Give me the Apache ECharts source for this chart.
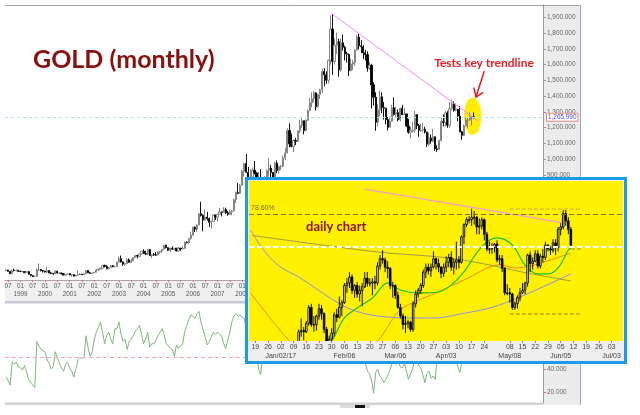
<!DOCTYPE html>
<html><head><meta charset="utf-8">
<script src="https://cdn.jsdelivr.net/npm/echarts@6/dist/echarts.min.js"></script>
<style>html,body{margin:0;padding:0;background:#fff}#c{width:640px;height:415px}</style>
</head><body><div id="c"></div>
<script>
// ---------- monthly chart data (1998-06 .. 2017-06), rows = [open, close, low, high] ----------
const monthlyOHLC = [
// 1998 Jun-Dec
[293,296,288,301],[296,288,287,298],[288,273,271,290],[273,294,273,300],[294,292,288,305],[292,294,288,300],[294,288,284,297],
// 1999
[288,287,283,293],[287,287,283,291],[287,279,278,290],[279,286,278,291],[286,268,267,290],[268,261,256,268],[261,255,252,262],[255,255,251,259],[255,299,254,307],[299,299,290,338],[299,292,288,303],[292,290,280,296],
// 2000
[290,283,281,292],[283,293,280,316],[293,278,276,295],[278,274,271,285],[274,272,266,279],[272,289,271,294],[289,277,275,291],[277,277,271,280],[277,273,268,279],[273,264,263,275],[264,269,263,272],[269,273,267,275],
// 2001
[273,265,263,275],[265,267,255,269],[267,258,255,269],[258,264,255,266],[264,267,263,293],[267,270,265,276],[270,266,264,270],[266,273,265,277],[273,293,270,294],[293,279,277,294],[279,275,272,286],[275,277,270,280],
// 2002
[277,282,276,286],[282,297,281,303],[297,302,289,304],[302,308,299,311],[308,326,306,328],[326,318,314,330],[318,304,302,327],[304,312,300,316],[312,324,309,328],[324,317,314,327],[317,318,315,324],[318,347,316,349],
// 2003
[347,368,344,383],[368,347,344,388],[347,334,323,352],[334,336,322,340],[336,361,336,372],[361,346,342,371],[346,354,341,368],[354,375,353,377],[375,388,372,392],[388,384,370,393],[384,398,378,399],[398,416,396,417],
// 2004
[416,400,399,428],[400,397,391,419],[397,427,391,430],[427,388,386,430],[388,394,372,396],[394,392,387,404],[392,391,386,410],[391,409,390,416],[409,416,397,418],[416,428,407,430],[428,453,427,455],[453,438,434,458],
// 2005
[438,422,418,440],[422,435,411,437],[435,428,424,446],[428,435,424,436],[435,418,414,432],[418,435,413,442],[435,430,418,433],[430,433,430,447],[433,473,433,477],[473,470,466,479],[470,495,460,498],[495,517,490,540],
// 2006
[517,568,517,571],[568,556,538,573],[556,582,539,585],[582,654,580,655],[654,643,636,730],[643,613,542,650],[613,632,610,680],[632,623,610,665],[623,599,570,630],[599,604,560,610],[604,646,601,650],[646,632,614,646],
// 2007
[632,650,603,653],[650,665,647,690],[665,663,637,668],[663,680,660,695],[680,659,653,692],[659,650,640,672],[650,666,648,680],[666,672,643,678],[672,743,669,750],[743,789,721,795],[789,783,778,848],[783,834,782,842],
// 2008
[834,923,833,933],[923,972,889,976],[972,916,914,1033],[916,863,853,951],[863,886,852,937],[886,930,858,947],[930,912,903,988],[912,833,775,918],[833,880,736,918],[880,718,681,936],[718,815,705,837],[815,882,760,891],
// 2009
[882,928,802,934],[928,943,890,1006],[943,916,865,964],[916,883,866,917],[883,975,882,983],[975,927,912,991],[927,953,906,960],[953,955,930,964],[955,1007,948,1023],[1007,1040,994,1072],[1040,1182,1036,1195],[1182,1096,1075,1227],
// 2010
[1096,1081,1075,1162],[1081,1118,1045,1127],[1118,1113,1089,1135],[1113,1179,1111,1181],[1179,1213,1165,1249],[1213,1244,1198,1265],[1244,1181,1157,1244],[1181,1247,1176,1251],[1247,1307,1242,1316],[1307,1357,1306,1388],[1357,1384,1331,1424],[1384,1420,1360,1431],
// 2011
[1420,1333,1309,1424],[1333,1410,1326,1415],[1410,1439,1381,1447],[1439,1556,1419,1575],[1556,1536,1462,1577],[1536,1500,1478,1557],[1500,1628,1480,1632],[1628,1825,1600,1911],[1825,1620,1535,1920],[1620,1723,1600,1763],[1723,1746,1667,1803],[1746,1566,1523,1764],
// 2012
[1566,1738,1555,1764],[1738,1710,1688,1791],[1710,1669,1627,1720],[1669,1664,1613,1681],[1664,1562,1527,1670],[1562,1604,1556,1640],[1604,1614,1565,1630],[1614,1692,1592,1697],[1692,1774,1690,1790],[1774,1719,1695,1796],[1719,1713,1672,1755],[1713,1675,1635,1723],
// 2013
[1675,1663,1626,1694],[1663,1578,1555,1684],[1578,1595,1565,1617],[1595,1472,1321,1605],[1472,1393,1339,1488],[1393,1234,1180,1424],[1234,1313,1207,1348],[1313,1396,1272,1434],[1396,1327,1292,1424],[1327,1323,1251,1362],[1323,1250,1221,1324],[1250,1202,1182,1267],
// 2014
[1202,1240,1202,1270],[1240,1326,1237,1345],[1326,1284,1277,1392],[1284,1296,1268,1331],[1296,1250,1240,1315],[1250,1322,1240,1326],[1322,1282,1280,1345],[1282,1287,1281,1323],[1287,1210,1204,1289],[1210,1171,1161,1255],[1171,1182,1131,1205],[1182,1184,1170,1238],
// 2015
[1184,1283,1167,1307],[1283,1213,1191,1285],[1213,1183,1142,1223],[1183,1183,1173,1224],[1183,1190,1170,1232],[1190,1172,1162,1205],[1172,1095,1077,1174],[1095,1134,1084,1170],[1134,1115,1098,1157],[1115,1142,1107,1192],[1142,1065,1053,1142],[1065,1061,1046,1088],
// 2016
[1061,1118,1061,1123],[1118,1238,1111,1263],[1238,1233,1208,1283],[1233,1293,1208,1304],[1293,1215,1199,1304],[1215,1321,1200,1362],[1321,1351,1310,1377],[1351,1309,1301,1367],[1309,1316,1303,1352],[1316,1273,1241,1318],[1273,1173,1171,1337],[1173,1151,1123,1180],
// 2017 Jan-Jun
[1151,1211,1146,1219],[1211,1249,1208,1264],[1249,1249,1195,1262],[1249,1268,1245,1297],[1268,1268,1214,1271],[1268,1266,1258,1296]
];

// monthly RSI, same months as monthlyOHLC
const rsiValues = [
33,30,26,46,44,46,42,
41,39,43,38,31,28,26,24,64,60,57,56,
55,48,45,40,42,55,50,45,41,38,44,46,
41,38,33,40,48,50,49,51,69,58,51,55,
66,72,76,81,72,62,69,72,66,62,75,75,
81,70,64,66,57,64,66,69,73,75,78,70,
62,66,72,59,62,62,65,69,72,75,70,62,
60,58,57,51,61,58,60,62,72,78,83,87,
86,84,88,90,80,74,68,61,64,68,72,70,
72,70,69,62,58,65,72,81,86,88,86,87,
85,84,76,62,58,60,57,52,40,35,52,60,
63,66,58,55,65,58,62,63,70,73,85,70,
64,68,66,72,76,78,65,72,78,82,84,85,
68,74,76,85,80,74,82,90,70,74,74,60,
70,66,60,58,50,54,55,62,68,60,58,54,
45,38,36,30,19,37,40,34,32,28,31,35,
39,45,48,44,47,42,41,45,38,31,36,40,
48,52,43,41,35,28,36,38,32,34,31,50,
55,66,64,70,58,70,72,60,50,42,37,46,
52,55,54,56,57,56
];

const priceTickValues = [300,400,500,600,700,800,900,1000,1100,1200,1300,1400,1500,1600,1700,1800,1900];
const rsiTickValues = [20,40,60,80];
const trendlinePoints = [['2011-09',1920],['2017-08',1241]];
const currentPrice = 1265.99;
const rsiMidLevel = 50;

// ---------- daily inset data (2017-01-03 .. 2017-06-09), rows = [open, close, low, high] ----------
const dailyStart = '2017-01-03';
const dailyOHLC = [
[1146,1160,1146,1163],[1160,1165,1158,1167],[1165,1180,1163,1182],[1180,1173,1167,1182],
[1173,1184,1171,1186],[1184,1185,1178,1188],[1185,1196,1181,1198],[1196,1197,1192,1207],[1197,1196,1189,1200],
[1196,1203,1195,1205],[1203,1216,1201,1218],[1216,1202,1200,1219],[1202,1202,1196,1209],[1202,1209,1197,1210],
[1209,1215,1206,1219],[1215,1211,1206,1218],[1211,1198,1195,1212],[1198,1188,1185,1200],[1188,1190,1180,1193],
[1190,1195,1188,1199],[1195,1210,1192,1212],[1210,1208,1204,1215],[1208,1216,1207,1225],[1216,1220,1209,1222],
[1220,1234,1219,1236],[1234,1236,1228,1240],[1236,1241,1232,1245],[1241,1230,1227,1243],[1230,1234,1224,1235],
[1234,1227,1224,1237],[1227,1230,1221,1234],[1230,1233,1217,1236],[1233,1240,1232,1245],[1240,1236,1233,1245],
[1236,1236,1233,1240],[1236,1237,1226,1240],[1237,1236,1231,1242],[1236,1250,1234,1253],[1250,1256,1247,1259],
[1256,1255,1252,1263],[1255,1249,1245,1257],[1249,1248,1240,1254],[1248,1234,1231,1249],[1234,1234,1224,1237],
[1234,1226,1223,1235],[1226,1216,1215,1229],[1216,1209,1207,1219],[1209,1202,1198,1211],[1202,1203,1195,1209],
[1203,1204,1199,1206],[1204,1198,1196,1205],[1198,1219,1196,1221],[1219,1227,1216,1230],[1227,1230,1224,1232],
[1230,1234,1227,1236],[1234,1245,1232,1247],[1245,1249,1240,1252],[1249,1246,1243,1252],[1246,1249,1241,1252],
[1249,1256,1248,1262],[1256,1252,1247,1257],[1252,1249,1245,1256],[1249,1244,1240,1250],[1244,1249,1241,1252],
[1249,1253,1245,1258],[1253,1257,1249,1260],[1257,1249,1246,1262],[1249,1253,1243,1256],[1253,1255,1247,1270],
[1255,1253,1248,1258],[1253,1274,1252,1275],[1274,1284,1268,1285],[1284,1288,1282,1290],[1288,1288,1285,1291],
[1288,1290,1283,1297],[1290,1290,1284,1295],[1290,1282,1276,1291],[1282,1283,1276,1289],[1283,1288,1280,1290],
[1288,1276,1271,1289],[1276,1264,1262,1278],[1264,1264,1260,1270],[1264,1265,1260,1269],[1265,1268,1261,1269],
[1268,1255,1253,1271],[1255,1256,1251,1259],[1256,1248,1245,1259],[1248,1228,1226,1249],[1228,1228,1226,1235],
[1228,1227,1220,1232],[1227,1216,1214,1228],[1216,1219,1214,1221],[1219,1224,1215,1226],[1224,1228,1221,1232],
[1228,1230,1227,1236],[1230,1236,1227,1237],[1236,1259,1233,1260],[1259,1252,1245,1262],[1252,1254,1247,1257],
[1254,1260,1253,1263],[1260,1250,1248,1263],[1250,1258,1248,1260],[1258,1257,1253,1264],[1257,1267,1255,1270],
[1267,1264,1262,1268],[1264,1263,1259,1266],[1263,1269,1261,1272],[1269,1265,1259,1272],[1265,1280,1262,1282],
[1280,1282,1275,1285],[1282,1293,1280,1296],[1293,1287,1283,1296],[1287,1280,1276,1290],[1280,1267,1265,1282]
];

// moving averages
const maBlue = [['2016-12-15',1279.5],['2016-12-23',1261],['2017-01-02',1249],['2017-01-11',1241],['2017-02-03',1218],['2017-02-20',1210],['2017-03-15',1207.4],['2017-03-28',1207.4],['2017-04-07',1210],['2017-05-02',1218],['2017-06-09',1243.5]];
const maOlive = [['2016-12-16',1275],['2017-02-23',1261.5],['2017-04-04',1256.6],['2017-05-02',1249.2],['2017-05-15',1245],['2017-06-09',1237.7]];
const maOrange = [['2016-12-15',1228],['2016-12-23',1212],['2016-12-30',1199],['2017-01-05',1189.5],['2017-01-16',1176],['2017-01-30',1172],['2017-02-13',1180],['2017-02-23',1188.5],['2017-03-08',1214],['2017-03-28',1228],['2017-04-12',1238.5],['2017-05-02',1251],['2017-05-10',1248.4],['2017-05-22',1251],['2017-06-09',1260.7]];
const maGreen = [['2017-01-23',1176],['2017-01-30',1188.5],['2017-02-06',1207.4],['2017-02-13',1215.6],['2017-02-21',1223.8],['2017-03-01',1236.1],['2017-03-08',1230.3],['2017-03-17',1227.9],['2017-03-29',1228.7],['2017-04-05',1234.4],['2017-04-12',1245.1],['2017-04-19',1260.7],['2017-04-25',1269.7],['2017-05-01',1273],['2017-05-09',1267.2],['2017-05-16',1250.8],['2017-05-23',1243.5],['2017-05-29',1243.5],['2017-06-02',1248.4],['2017-06-08',1263.1],['2017-06-09',1265]];
const insetTrendline = [['2017-02-16',1313.1],['2017-06-06',1285.3]];
const rangeTop = [['2017-05-08',1296.7],['2017-06-15',1296.7]];
const rangeBottom = [['2017-05-08',1210.7],['2017-06-15',1210.7]];
const rangeMid = [['2017-06-09',1264],['2017-06-15',1264]];
const fib786 = 1292.6;
const dailyLastPrice = 1266;
const insetMonthLabels = {'2017-01-02':'Jan/02/17','2017-02-06':'Feb/06','2017-03-06':'Mar/06','2017-04-03':'Apr/03','2017-05-08':'May/08','2017-06-05':'Jun/05','2017-07-03':'Jul/03'};

// ---------- categories ----------
const monthCategories = [];
for (let k = 0; k < 262; k++) {
  const y = 1998 + Math.floor((5 + k) / 12), m = (5 + k) % 12 + 1;
  monthCategories.push(y + '-' + (m < 10 ? '0' : '') + m);
}
const insetDays = [];
for (let t = Date.UTC(2016, 11, 15); t <= Date.UTC(2017, 6, 7); t += 86400000) {
  const d = new Date(t), wd = d.getUTCDay();
  if (wd !== 0 && wd !== 6) insetDays.push(d.toISOString().slice(0, 10));
}
const dailyIdx0 = insetDays.indexOf(dailyStart);
const dailyData = dailyOHLC.map((r, k) => [dailyIdx0 + k, r[0], r[1], r[2], r[3]]);

function fmtNum(v) {
  const s = String(Math.round(v));
  const i = s.length > 3 ? s.slice(0, s.length - 3) + ',' + s.slice(-3) : s;
  return i + '.000';
}
const halfYear = (i, v) => /-(01|07)$/.test(v);
const isLabelMonday = (i, v) => new Date(v + 'T00:00:00Z').getUTCDay() === 1 && v !== '2017-05-01';
const isMonthLabel = (i, v) => !!insetMonthLabels[v];
const FONT = 'Liberation Sans';

function renderDaily(params, api) {
  const xi = api.value(0), o = api.value(1), c = api.value(2), l = api.value(3), h = api.value(4);
  const pTop = api.coord([xi, Math.max(o, c)]);
  const pBot = api.coord([xi, Math.min(o, c)]);
  const pHi = api.coord([xi, h]);
  const pLo = api.coord([xi, l]);
  const w = api.size([1, 0])[0] * 0.62;
  const up = c >= o;
  return {
    type: 'group',
    children: [
      {type: 'line', shape: {x1: pHi[0], y1: pHi[1], x2: pLo[0], y2: pLo[1]}, style: {stroke: '#111', lineWidth: 1}},
      {type: 'rect', shape: {x: pTop[0] - w / 2, y: pTop[1], width: w, height: Math.max(0.8, pBot[1] - pTop[1])},
       style: {fill: up ? '#ffffff' : '#000000', stroke: '#000', lineWidth: 0.9}}
    ]
  };
}

const chart = echarts.init(document.getElementById('c'), null, {renderer: 'canvas'});
chart.setOption({
  animation: false,
  backgroundColor: '#ffffff',
  grid: [
    {left: 5, top: 5, width: 538, height: 275},
    {left: 5, top: 305, width: 538, height: 98},
    {left: 249, top: 181, width: 374, height: 160}
  ],
  xAxis: [
    {gridIndex: 0, type: 'category', data: monthCategories, boundaryGap: true,
     axisLine: {show: true, lineStyle: {color: '#a8a8a8'}},
     axisTick: {show: true, interval: halfYear, alignWithLabel: true, length: 2, lineStyle: {color: '#e07070'}},
     axisLabel: {interval: halfYear, margin: 2, fontSize: 6.3, lineHeight: 8.5, color: '#555', fontFamily: FONT,
       showMinLabel: true, showMaxLabel: true,
       formatter: v => v.slice(5) === '01' ? '01\n' + v.slice(0, 4) : '07'},
     splitLine: {show: false}},
    {gridIndex: 1, type: 'category', data: monthCategories, boundaryGap: true, show: false},
    {gridIndex: 2, type: 'category', data: insetDays, boundaryGap: true, position: 'bottom', offset: 0, z: 22,
     axisLine: {show: false},
     axisTick: {show: true, interval: isLabelMonday, alignWithLabel: true, length: 2, lineStyle: {color: '#e06060'}},
     axisLabel: {interval: isLabelMonday, margin: 3, fontSize: 7, color: '#444', fontFamily: FONT,
       showMinLabel: true, showMaxLabel: true, hideOverlap: false,
       formatter: v => v.slice(8)},
     splitLine: {show: false}},
    {gridIndex: 2, type: 'category', data: insetDays, boundaryGap: true, position: 'bottom', offset: 0, z: 22,
     axisLine: {show: false}, axisTick: {show: false},
     axisLabel: {interval: isMonthLabel, margin: 12, fontSize: 7, color: '#444', fontFamily: FONT,
       showMinLabel: true, showMaxLabel: true, hideOverlap: false,
       formatter: v => insetMonthLabels[v] || ''},
     splitLine: {show: false}}
  ],
  yAxis: [
    {gridIndex: 0, type: 'value', position: 'right', min: 233, max: 1978,
     axisLine: {show: true, lineStyle: {color: '#9a9a9a'}},
     axisTick: {show: true, length: 3, customValues: priceTickValues, lineStyle: {color: '#c08888'}},
     axisLabel: {customValues: priceTickValues, margin: 4, fontSize: 6.4, color: '#666', fontFamily: FONT, formatter: v => fmtNum(v)},
     splitLine: {show: false}},
    {gridIndex: 1, type: 'value', position: 'right', min: 10.4, max: 95.7,
     axisLine: {show: true, lineStyle: {color: '#9a9a9a'}},
     axisTick: {show: true, length: 3, customValues: rsiTickValues, lineStyle: {color: '#d07070'}},
     axisLabel: {customValues: rsiTickValues, margin: 4, fontSize: 6.4, color: '#666', fontFamily: FONT, formatter: v => v + '.000'},
     splitLine: {show: false}},
    {gridIndex: 2, type: 'value', min: 1188.5, max: 1319.7, show: false, splitLine: {show: false}}
  ],
  series: [
    {type: 'candlestick', name: 'gold monthly', xAxisIndex: 0, yAxisIndex: 0, data: monthlyOHLC, barWidth: 1.7, z: 2,
     itemStyle: {color: '#ffffff', color0: '#000000', borderColor: '#858585', borderColor0: '#111111', borderColorDoji: '#858585', borderWidth: 1},
     markLine: {silent: true, symbol: ['none', 'none'], z: 5,
       data: [{yAxis: currentPrice}],
       lineStyle: {color: '#b4e2ea', type: [3, 3], width: 1},
       label: {show: true, position: 'end', distance: 4, formatter: '1,265.990', fontSize: 6.4, fontFamily: FONT,
         color: '#4a4ae0', backgroundColor: '#ffffff', borderColor: '#e08a8a', borderWidth: 1, padding: [1, 1, 0, 1]}}},
    {type: 'line', name: 'trendline', xAxisIndex: 0, yAxisIndex: 0, data: trendlinePoints, symbol: 'none', z: 3,
     lineStyle: {color: '#ff84ff', width: 1}},
    {type: 'line', name: 'RSI', xAxisIndex: 1, yAxisIndex: 1, data: rsiValues, symbol: 'none', z: 2,
     lineStyle: {color: '#7fb47f', width: 1},
     markLine: {silent: true, symbol: ['none', 'none'], z: 4, data: [{yAxis: rsiMidLevel}],
       lineStyle: {color: '#f4a8a8', type: [4, 3], width: 1}, label: {show: false}}},
    // inset
    {type: 'line', name: 'MA blue', xAxisIndex: 2, yAxisIndex: 2, data: maBlue, symbol: 'none', smooth: 0.35, z: 24, clip: true,
     lineStyle: {color: '#8c8cf0', width: 1}},
    {type: 'line', name: 'MA olive', xAxisIndex: 2, yAxisIndex: 2, data: maOlive, symbol: 'none', smooth: 0.35, z: 24, clip: true,
     lineStyle: {color: '#a49a48', width: 1},
     markLine: {silent: true, symbol: ['none', 'none'], z: 30,
       data: [
         {yAxis: fib786, lineStyle: {color: '#8c6c14', type: [5, 3], width: 1},
          label: {show: true, position: 'insideStartTop', formatter: '78.60%', fontSize: 7, fontFamily: FONT, color: '#7a6a40', distance: 2}},
         {yAxis: dailyLastPrice, lineStyle: {color: '#ffffff', type: [5, 3], width: 2}, label: {show: false}}
       ]}},
    {type: 'line', name: 'MA orange', xAxisIndex: 2, yAxisIndex: 2, data: maOrange, symbol: 'none', smooth: 0.3, z: 24, clip: true,
     lineStyle: {color: '#ec8a10', width: 1}},
    {type: 'line', name: 'MA green', xAxisIndex: 2, yAxisIndex: 2, data: maGreen, symbol: 'none', smooth: 0.35, z: 25, clip: true,
     lineStyle: {color: '#18c018', width: 1.2}},
    {type: 'line', name: 'inset trendline', xAxisIndex: 2, yAxisIndex: 2, data: insetTrendline, symbol: 'none', z: 25, clip: true,
     lineStyle: {color: '#f49ad8', width: 1.2}},
    {type: 'line', name: 'range top', xAxisIndex: 2, yAxisIndex: 2, data: rangeTop, symbol: 'none', z: 25,
     lineStyle: {color: '#c4ae4c', type: [4, 2], width: 1}},
    {type: 'line', name: 'range bottom', xAxisIndex: 2, yAxisIndex: 2, data: rangeBottom, symbol: 'none', z: 25,
     lineStyle: {color: '#9a8030', type: [4, 2], width: 1}},
    {type: 'line', name: 'range mid', xAxisIndex: 2, yAxisIndex: 2, data: rangeMid, symbol: 'none', z: 25,
     lineStyle: {color: '#9a8030', type: [4, 2], width: 1}},
    {type: 'custom', name: 'gold daily', xAxisIndex: 2, yAxisIndex: 2, data: dailyData, renderItem: renderDaily, clip: true, z: 27,
     encode: {x: 0, y: [1, 2, 3, 4]}}
  ],
  graphic: [
    // main chart frames
    {type: 'rect', shape: {x: 543, y: 5, width: 37, height: 400}, style: {fill: '#ececec'}, z: -1, silent: true},
    {type: 'line', shape: {x1: 580.5, y1: 5, x2: 580.5, y2: 405}, style: {stroke: '#9aa6c8', lineWidth: 1}, z: -1, silent: true},
    {type: 'line', shape: {x1: 5, y1: 5.5, x2: 580, y2: 5.5}, style: {stroke: '#a4a4a4', lineWidth: 1}, z: -1, silent: true},
    {type: 'rect', shape: {x: 5, y: 280.5, width: 538, height: 20.5}, style: {fill: '#f0f0f0'}, z: -1, silent: true},
    {type: 'rect', shape: {x: 5, y: 301, width: 538, height: 2.5}, style: {fill: '#c8c8d2'}, z: -1, silent: true},
    {type: 'rect', shape: {x: 5, y: 402.5, width: 538, height: 2.5}, style: {fill: '#d2d2d2'}, z: -1, silent: true},
    {type: 'rect', shape: {x: 340, y: 405, width: 30, height: 3}, style: {fill: '#dddddd'}, z: -1, silent: true},
    {type: 'rect', shape: {x: 355, y: 405, width: 10, height: 3}, style: {fill: '#111111'}, z: -1, silent: true},
    // annotations
    {type: 'ellipse', shape: {cx: 472.7, cy: 116.3, rx: 8.7, ry: 18.7}, style: {fill: '#ffee00'}, z: 1, silent: true},
    {type: 'text', style: {x: 33, y: 60, text: 'GOLD (monthly)', font: 'bold 25px Lato', fill: '#8a1010', textVerticalAlign: 'middle'}, z: 3},
    {type: 'text', style: {x: 484, y: 63, text: 'Tests key trendline', font: 'bold 12px Lato', fill: '#ee1c24', textAlign: 'center', textVerticalAlign: 'middle'}, z: 3},
    {type: 'line', shape: {x1: 484.3, y1: 71, x2: 476, y2: 97}, style: {stroke: '#e8101a', lineWidth: 1.4}, z: 3},
    {type: 'polyline', shape: {points: [[473.8, 87.5], [476, 97], [483.2, 92.3]]}, style: {stroke: '#e8101a', lineWidth: 1.4, fill: null}, z: 3},
    // inset frame
    {type: 'rect', shape: {x: 246.5, y: 178.5, width: 379, height: 184}, style: {fill: '#eeeeee', stroke: '#1c9be6', lineWidth: 3}, z: 20, silent: true},
    {type: 'rect', shape: {x: 249, y: 181, width: 374, height: 160}, style: {fill: '#fff100'}, z: 21, silent: true},
    {type: 'text', style: {x: 306, y: 227, text: 'daily chart', font: 'bold 13px Lato', fill: '#8b1212', textVerticalAlign: 'middle'}, z: 31}
  ]
});
</script>
</body></html>
